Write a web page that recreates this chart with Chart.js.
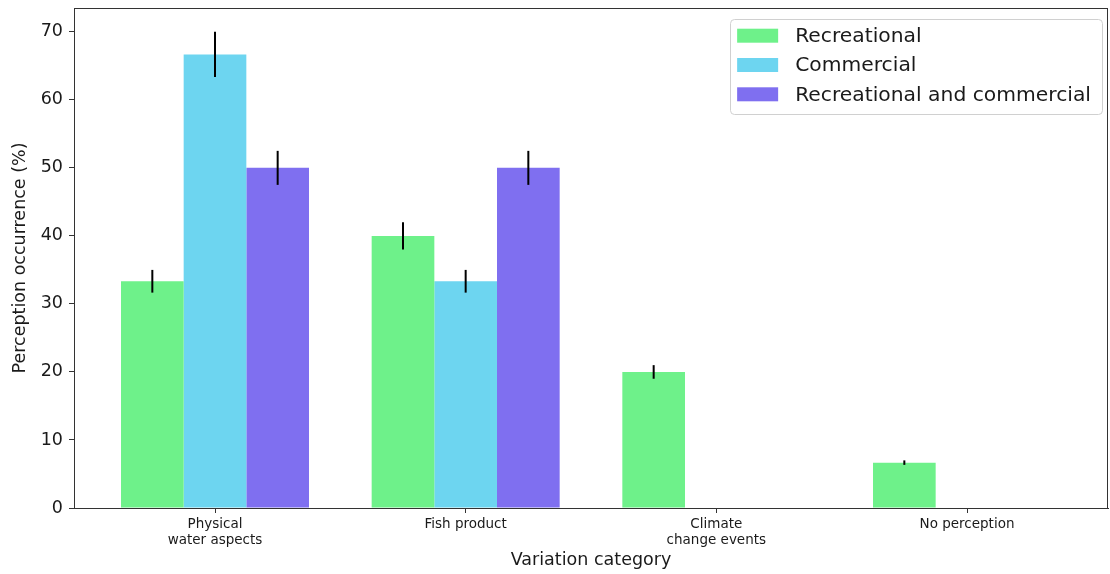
<!DOCTYPE html>
<html>
<head>
<meta charset="utf-8">
<script src="https://cdn.jsdelivr.net/npm/chart.js@4/dist/chart.umd.min.js"></script>
<style>
  html, body { margin: 0; padding: 0; background: #fff; }
  #wrap { width: 1110px; height: 574px; position: relative; }
</style>
</head>
<body>
<div id="wrap"><canvas id="chart"></canvas></div>
<script>
/* ===== Perception occurrence by variation category ===== */
const categories = [["Physical", "water aspects"], "Fish product", ["Climate", "change events"], "No perception"];
const seriesNames = ["Recreational", "Commercial", "Recreational and commercial"];
const recreational = [33.33, 40, 20, 6.67];
const commercial = [66.67, 33.33, 0, 0];
const recCommercial = [50, 50, 0, 0];
const recreationalErr = [1.67, 2, 1, 0.33];
const commercialErr = [3.33, 1.67, 0, 0];
const recCommercialErr = [2.5, 2.5, 0, 0];
const yTicks = [0, 10, 20, 30, 40, 50, 60, 70];

const COLORS = ["#6ef18a", "#6dd5f0", "#7f6ff0"];
const FONT = "'DejaVu Sans', sans-serif";
const TXT = "#1a1a1a";

const toPoints = (arr) => arr.map((v, i) => ({ x: i, y: v }));

// error bars (black vertical lines)
const errorBars = {
  id: "errorBars",
  afterDatasetsDraw(chart) {
    const { ctx } = chart;
    const y = chart.scales.y;
    ctx.save();
    ctx.strokeStyle = "#000";
    ctx.lineWidth = 2;
    chart.data.datasets.forEach((ds, di) => {
      const meta = chart.getDatasetMeta(di);
      meta.data.forEach((bar, i) => {
        const e = ds.errors[i];
        if (!e) return;
        const v = ds.data[i].y;
        ctx.beginPath();
        ctx.moveTo(bar.x, y.getPixelForValue(v - e));
        ctx.lineTo(bar.x, y.getPixelForValue(v + e));
        ctx.stroke();
      });
    });
    ctx.restore();
  }
};

// full frame around plot area
const frame = {
  id: "frame",
  afterDraw(chart) {
    const { ctx, chartArea: a } = chart;
    ctx.save();
    ctx.strokeStyle = "#333";
    ctx.lineWidth = 1;
    ctx.strokeRect(Math.round(a.left) + 0.5, Math.round(a.top) + 0.5, Math.round(a.right - a.left) - 1, Math.round(a.bottom - a.top));
    ctx.restore();
  }
};

// boxed legend inside the plot, top right
const boxLegend = {
  id: "boxLegend",
  afterDraw(chart) {
    const { ctx, chartArea: a } = chart;
    const fs = 20.3, rowH = 29.3, patchW = 41, patchH = 14, gap = 17, padL = 7, padR = 11;
    ctx.save();
    ctx.font = fs + "px " + FONT;
    const textW = Math.max(...chart.data.datasets.map(d => ctx.measureText(d.label).width));
    const w = padL + patchW + gap + textW + padR;
    const h = 95;
    const x0 = a.right - 6 - w, y0 = a.top + 11;
    ctx.fillStyle = "rgba(255,255,255,0.85)";
    ctx.strokeStyle = "#d0d0d0";
    ctx.lineWidth = 1;
    ctx.beginPath();
    ctx.roundRect(Math.round(x0) + 0.5, Math.round(y0) + 0.5, Math.round(w), h, 4);
    ctx.fill();
    ctx.stroke();
    ctx.textBaseline = "middle";
    chart.data.datasets.forEach((d, i) => {
      const cy = y0 + 16.7 + i * rowH;
      ctx.fillStyle = d.backgroundColor;
      ctx.fillRect(x0 + padL, cy - patchH / 2, patchW, patchH);
      ctx.fillStyle = TXT;
      ctx.fillText(d.label, x0 + padL + patchW + gap, cy + 1);
    });
    ctx.restore();
  }
};

const mk = (label, values, errors, color) => ({
  label, data: toPoints(values), errors,
  backgroundColor: color, borderWidth: 0,
  categoryPercentage: 0.75, barPercentage: 1.0
});

new Chart(document.getElementById("chart"), {
  type: "bar",
  data: {
    datasets: [
      mk(seriesNames[0], recreational, recreationalErr, COLORS[0]),
      mk(seriesNames[1], commercial, commercialErr, COLORS[1]),
      mk(seriesNames[2], recCommercial, recCommercialErr, COLORS[2])
    ]
  },
  options: {
    responsive: true, maintainAspectRatio: false, animation: false,
    layout: { padding: { top: 8, right: 2, left: 0, bottom: 0 } },
    plugins: { legend: { display: false }, tooltip: { enabled: false } },
    scales: {
      x: {
        type: "linear", min: -0.5625, max: 3.5625, offset: false,
        afterBuildTicks: (s) => { s.ticks = categories.map((c, i) => ({ value: i })); },
        afterFit: (s) => { s.height = 66; s.paddingLeft = 0; s.paddingRight = 0; },
        ticks: { callback: (v) => categories[v], font: { family: FONT, size: 13.5 }, color: TXT, padding: 3, maxRotation: 0, autoSkip: false },
        grid: { offset: false, drawOnChartArea: false, drawTicks: true, tickLength: 5, tickColor: "#333" },
        border: { display: true, color: "#333" },
        title: { display: true, text: "Variation category", font: { family: FONT, size: 17.5 }, color: TXT, padding: { top: 0, bottom: 3 } }
      },
      y: {
        min: 0, max: 73.5,
        afterBuildTicks: (s) => { s.ticks = yTicks.map(v => ({ value: v })); },
        afterFit: (s) => { s.width = 74; s.paddingTop = 0; s.paddingBottom = 0; },
        ticks: { font: { family: FONT, size: 17.5 }, color: TXT, padding: 6 },
        grid: { drawOnChartArea: false, drawTicks: true, tickLength: 5, tickColor: "#333" },
        border: { display: true, color: "#333" },
        title: { display: true, text: "Perception occurrence (%)", font: { family: FONT, size: 17.5 }, color: TXT, padding: { top: 10, bottom: 0 } }
      }
    }
  },
  plugins: [errorBars, frame, boxLegend]
});
</script>
</body>
</html>
